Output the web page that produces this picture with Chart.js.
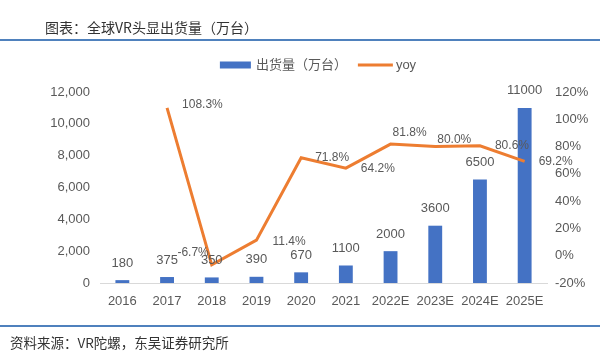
<!DOCTYPE html>
<html>
<head>
<meta charset="utf-8">
<script src="https://cdn.jsdelivr.net/npm/chart.js@4/dist/chart.umd.min.js"></script>
<style>
  html, body { margin:0; padding:0; background:#fff; }
  #wrap { position:relative; width:600px; height:355px; overflow:hidden; background:#fff; }
  #c { position:absolute; left:0; top:0; }
  .rule { position:absolute; left:0; width:600px; height:2px; background:#4f81bd; }
  .txt { position:absolute; font-family:'Noto Sans CJK SC','Liberation Sans',sans-serif; color:#333; white-space:nowrap; }
</style>
</head>
<body>
<div id="wrap">
  <canvas id="c" width="600" height="355"></canvas>
  <div class="txt" style="left:45px;top:17px;font-size:14px;line-height:20px;">图表：全球VR头显出货量（万台）</div>
  <div class="rule" style="top:39px;"></div>
  <div class="rule" style="top:325px;"></div>
  <div class="txt" style="left:10px;top:332px;font-size:13.5px;line-height:20px;">资料来源：VR陀螺，东吴证券研究所</div>
</div>
<script>
// ---- data ----
const categories = ['2016','2017','2018','2019','2020','2021','2022E','2023E','2024E','2025E'];
const shipments = [180, 375, 350, 390, 670, 1100, 2000, 3600, 6500, 11000];
const yoy = [null, 108.3, -6.7, 11.4, 71.8, 64.2, 81.8, 80.0, 80.6, 69.2];
const leftTicks = [0, 2000, 4000, 6000, 8000, 10000, 12000];
const rightTicks = [-20, 0, 20, 40, 60, 80, 100, 120];
const seriesNames = ['出货量（万台）', 'yoy'];

// ---- styles ----
const BAR_COLOR = '#4472c4';
const LINE_COLOR = '#ed7d31';
const TEXT_COLOR = '#595959';
const FONT = "'Liberation Sans','Noto Sans CJK SC',sans-serif";
// label placement for yoy labels: [dx, dy, align]
const yoyLabelPlacement = [
  null, [15,-3,'left'], [-3,-12,'right'], [16,2,'left'], [14,0,'left'],
  [15,1,'left'], [2,-11,'left'], [2,-7,'left'], [15,0,'left'], [14,0,'left']
];

const labelsPlugin = {
  id: 'labels',
  afterDatasetsDraw(chart) {
    const ctx = chart.ctx;
    ctx.save();
    ctx.fillStyle = TEXT_COLOR;
    ctx.textBaseline = 'middle';
    ctx.font = '13px ' + FONT;
    ctx.textAlign = 'center';
    chart.getDatasetMeta(0).data.forEach((el, i) => {
      ctx.fillText(String(shipments[i]), el.x, el.y - 17);
    });
    ctx.font = '12px ' + FONT;
    chart.getDatasetMeta(1).data.forEach((el, i) => {
      if (yoy[i] === null) return;
      const p = yoyLabelPlacement[i];
      ctx.textAlign = p[2];
      ctx.fillText(yoy[i].toFixed(1) + '%', el.x + p[0], el.y + p[1]);
    });
    ctx.restore();
  },
  afterDraw(chart) {
    const ctx = chart.ctx;
    ctx.save();
    ctx.font = '13px ' + FONT;
    ctx.textBaseline = 'middle';
    ctx.textAlign = 'left';
    const boxW = 31, gap1 = 5, gapItems = 11, lineW = 35, gap2 = 3;
    const w1 = ctx.measureText(seriesNames[0]).width;
    const w2 = ctx.measureText(seriesNames[1]).width;
    const total = boxW + gap1 + w1 + gapItems + lineW + gap2 + w2;
    let x = 318 - total / 2;
    const y = 65;
    ctx.fillStyle = BAR_COLOR;
    ctx.fillRect(x, y - 3.5, boxW, 7);
    x += boxW + gap1;
    ctx.fillStyle = TEXT_COLOR;
    ctx.fillText(seriesNames[0], x, y);
    x += w1 + gapItems;
    ctx.strokeStyle = LINE_COLOR;
    ctx.lineWidth = 3;
    ctx.beginPath();
    ctx.moveTo(x, y);
    ctx.lineTo(x + lineW, y);
    ctx.stroke();
    x += lineW + gap2;
    ctx.fillText(seriesNames[1], x, y);
    ctx.restore();
  }
};

new Chart(document.getElementById('c'), {
  data: {
    labels: categories,
    datasets: [
      {
        type: 'bar',
        label: seriesNames[0],
        data: shipments,
        backgroundColor: BAR_COLOR,
        barPercentage: 0.31,
        categoryPercentage: 1.0,
        yAxisID: 'y',
        order: 2
      },
      {
        type: 'line',
        label: seriesNames[1],
        data: yoy,
        borderColor: LINE_COLOR,
        backgroundColor: LINE_COLOR,
        borderWidth: 3,
        pointRadius: 0,
        tension: 0,
        yAxisID: 'y1',
        order: 1
      }
    ]
  },
  options: {
    responsive: false,
    animation: false,
    layout: { padding: { top: 92, left: 0, right: 0, bottom: 0 } },
    plugins: { legend: { display: false }, tooltip: { enabled: false } },
    scales: {
      x: {
        grid: { display: false, drawTicks: false },
        border: { display: true, color: '#d9d9d9', width: 1 },
        ticks: { color: TEXT_COLOR, font: { size: 13, family: FONT }, padding: 11, maxRotation: 0 },
        afterFit(s) { s.height = 72; }
      },
      y: {
        position: 'left',
        min: leftTicks[0], max: leftTicks[leftTicks.length - 1],
        grid: { display: false, drawTicks: false },
        border: { display: false },
        afterBuildTicks(s) { s.ticks = leftTicks.map(v => ({ value: v })); },
        ticks: {
          color: TEXT_COLOR, font: { size: 13, family: FONT }, padding: 10,
          callback: v => v.toLocaleString('en-US')
        },
        afterFit(s) { s.width = 100; }
      },
      y1: {
        position: 'right',
        min: rightTicks[0], max: rightTicks[rightTicks.length - 1],
        grid: { display: false, drawTicks: false },
        border: { display: false },
        afterBuildTicks(s) { s.ticks = rightTicks.map(v => ({ value: v })); },
        ticks: {
          color: TEXT_COLOR, font: { size: 13, family: FONT }, padding: 8,
          callback: v => v + '%'
        },
        afterFit(s) { s.width = 53; }
      }
    }
  },
  plugins: [labelsPlugin]
});
</script>
</body>
</html>
